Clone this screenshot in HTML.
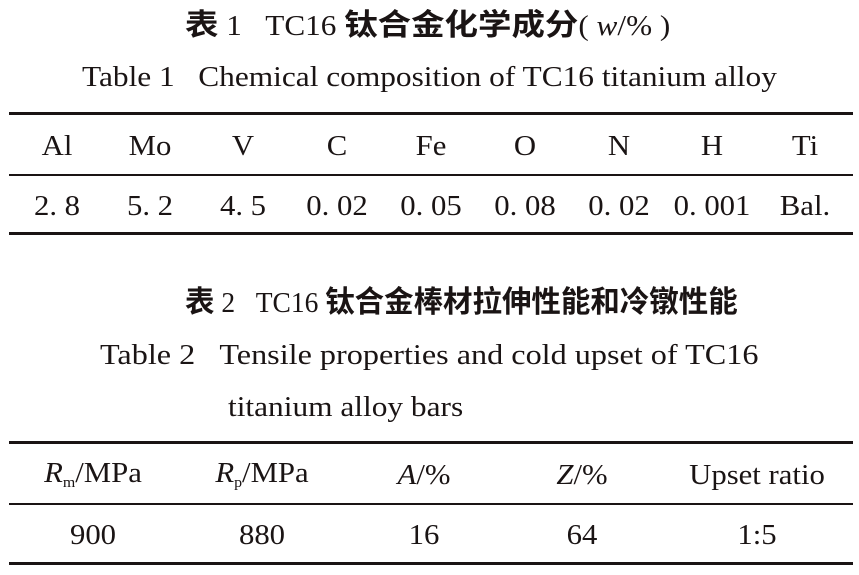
<!DOCTYPE html>
<html><head><meta charset="utf-8"><style>
body{margin:0;width:859px;height:575px;background:#fff;position:relative;overflow:hidden;font-family:"Liberation Serif","Noto Serif CJK SC",serif;color:#1a1414}
.t{position:absolute;white-space:nowrap;line-height:1;transform-origin:0 0}
.c{position:absolute;white-space:nowrap;line-height:1;transform:translateX(-50%) scaleX(1.06);font-size:29px}
.cj{font-family:"Liberation Serif","Noto Sans CJK SC",sans-serif;font-weight:bold;font-size:30px}
.l{position:absolute;left:9px;right:6px;background:#1a1414}
i{font-style:italic}
sub{font-size:15px;vertical-align:-5px}
</style></head><body>
<div class="t" style="left:185px;top:11px;font-size:28px;transform:scaleX(1.115)"><span class="cj">表</span> 1&nbsp;&nbsp;&nbsp;TC16 <span class="cj">钛合金化学成分</span>( <i>w</i>/% )</div>
<div class="t" style="left:82px;top:64px;font-size:28px;transform:scaleX(1.12)">Table 1&nbsp;&nbsp;&nbsp;Chemical composition of TC16 titanium alloy</div>
<div class="l" style="top:112px;height:3px"></div>
<div class="l" style="top:174px;height:1.5px"></div>
<div class="l" style="top:232px;height:3px"></div>
<div class="c" style="left:57px;top:132px">Al</div>
<div class="c" style="left:150px;top:132px">Mo</div>
<div class="c" style="left:243px;top:132px">V</div>
<div class="c" style="left:337px;top:132px">C</div>
<div class="c" style="left:431px;top:132px">Fe</div>
<div class="c" style="left:525px;top:132px">O</div>
<div class="c" style="left:619px;top:132px">N</div>
<div class="c" style="left:712px;top:132px">H</div>
<div class="c" style="left:805px;top:132px">Ti</div>
<div class="c" style="left:57px;top:192px">2. 8</div>
<div class="c" style="left:150px;top:192px">5. 2</div>
<div class="c" style="left:243px;top:192px">4. 5</div>
<div class="c" style="left:337px;top:192px">0. 02</div>
<div class="c" style="left:431px;top:192px">0. 05</div>
<div class="c" style="left:525px;top:192px">0. 08</div>
<div class="c" style="left:619px;top:192px">0. 02</div>
<div class="c" style="left:712px;top:192px">0. 001</div>
<div class="c" style="left:805px;top:192px">Bal.</div>
<div class="t" style="left:185px;top:288px;font-size:28px;transform:scaleX(0.982)"><span class="cj">表</span> 2&nbsp;&nbsp;&nbsp;TC16 <span class="cj">钛合金棒材拉伸性能和冷镦性能</span></div>
<div class="t" style="left:100px;top:342px;font-size:28px;transform:scaleX(1.15)">Table 2&nbsp;&nbsp;&nbsp;Tensile properties and cold upset of TC16</div>
<div class="t" style="left:228px;top:394px;font-size:28px;transform:scaleX(1.12)">titanium alloy bars</div>
<div class="l" style="top:441px;height:3px"></div>
<div class="l" style="top:503px;height:1.5px"></div>
<div class="l" style="top:562px;height:3px"></div>
<div class="c" style="left:93px;top:459px"><i>R</i><sub>m</sub>/MPa</div>
<div class="c" style="left:262px;top:459px"><i>R</i><sub>p</sub>/MPa</div>
<div class="c" style="left:424px;top:461px"><i>A</i>/%</div>
<div class="c" style="left:582px;top:461px"><i>Z</i>/%</div>
<div class="c" style="left:757px;top:461px">Upset ratio</div>
<div class="c" style="left:93px;top:521px">900</div>
<div class="c" style="left:262px;top:521px">880</div>
<div class="c" style="left:424px;top:521px">16</div>
<div class="c" style="left:582px;top:521px">64</div>
<div class="c" style="left:757px;top:521px">1:5</div>
</body></html>
